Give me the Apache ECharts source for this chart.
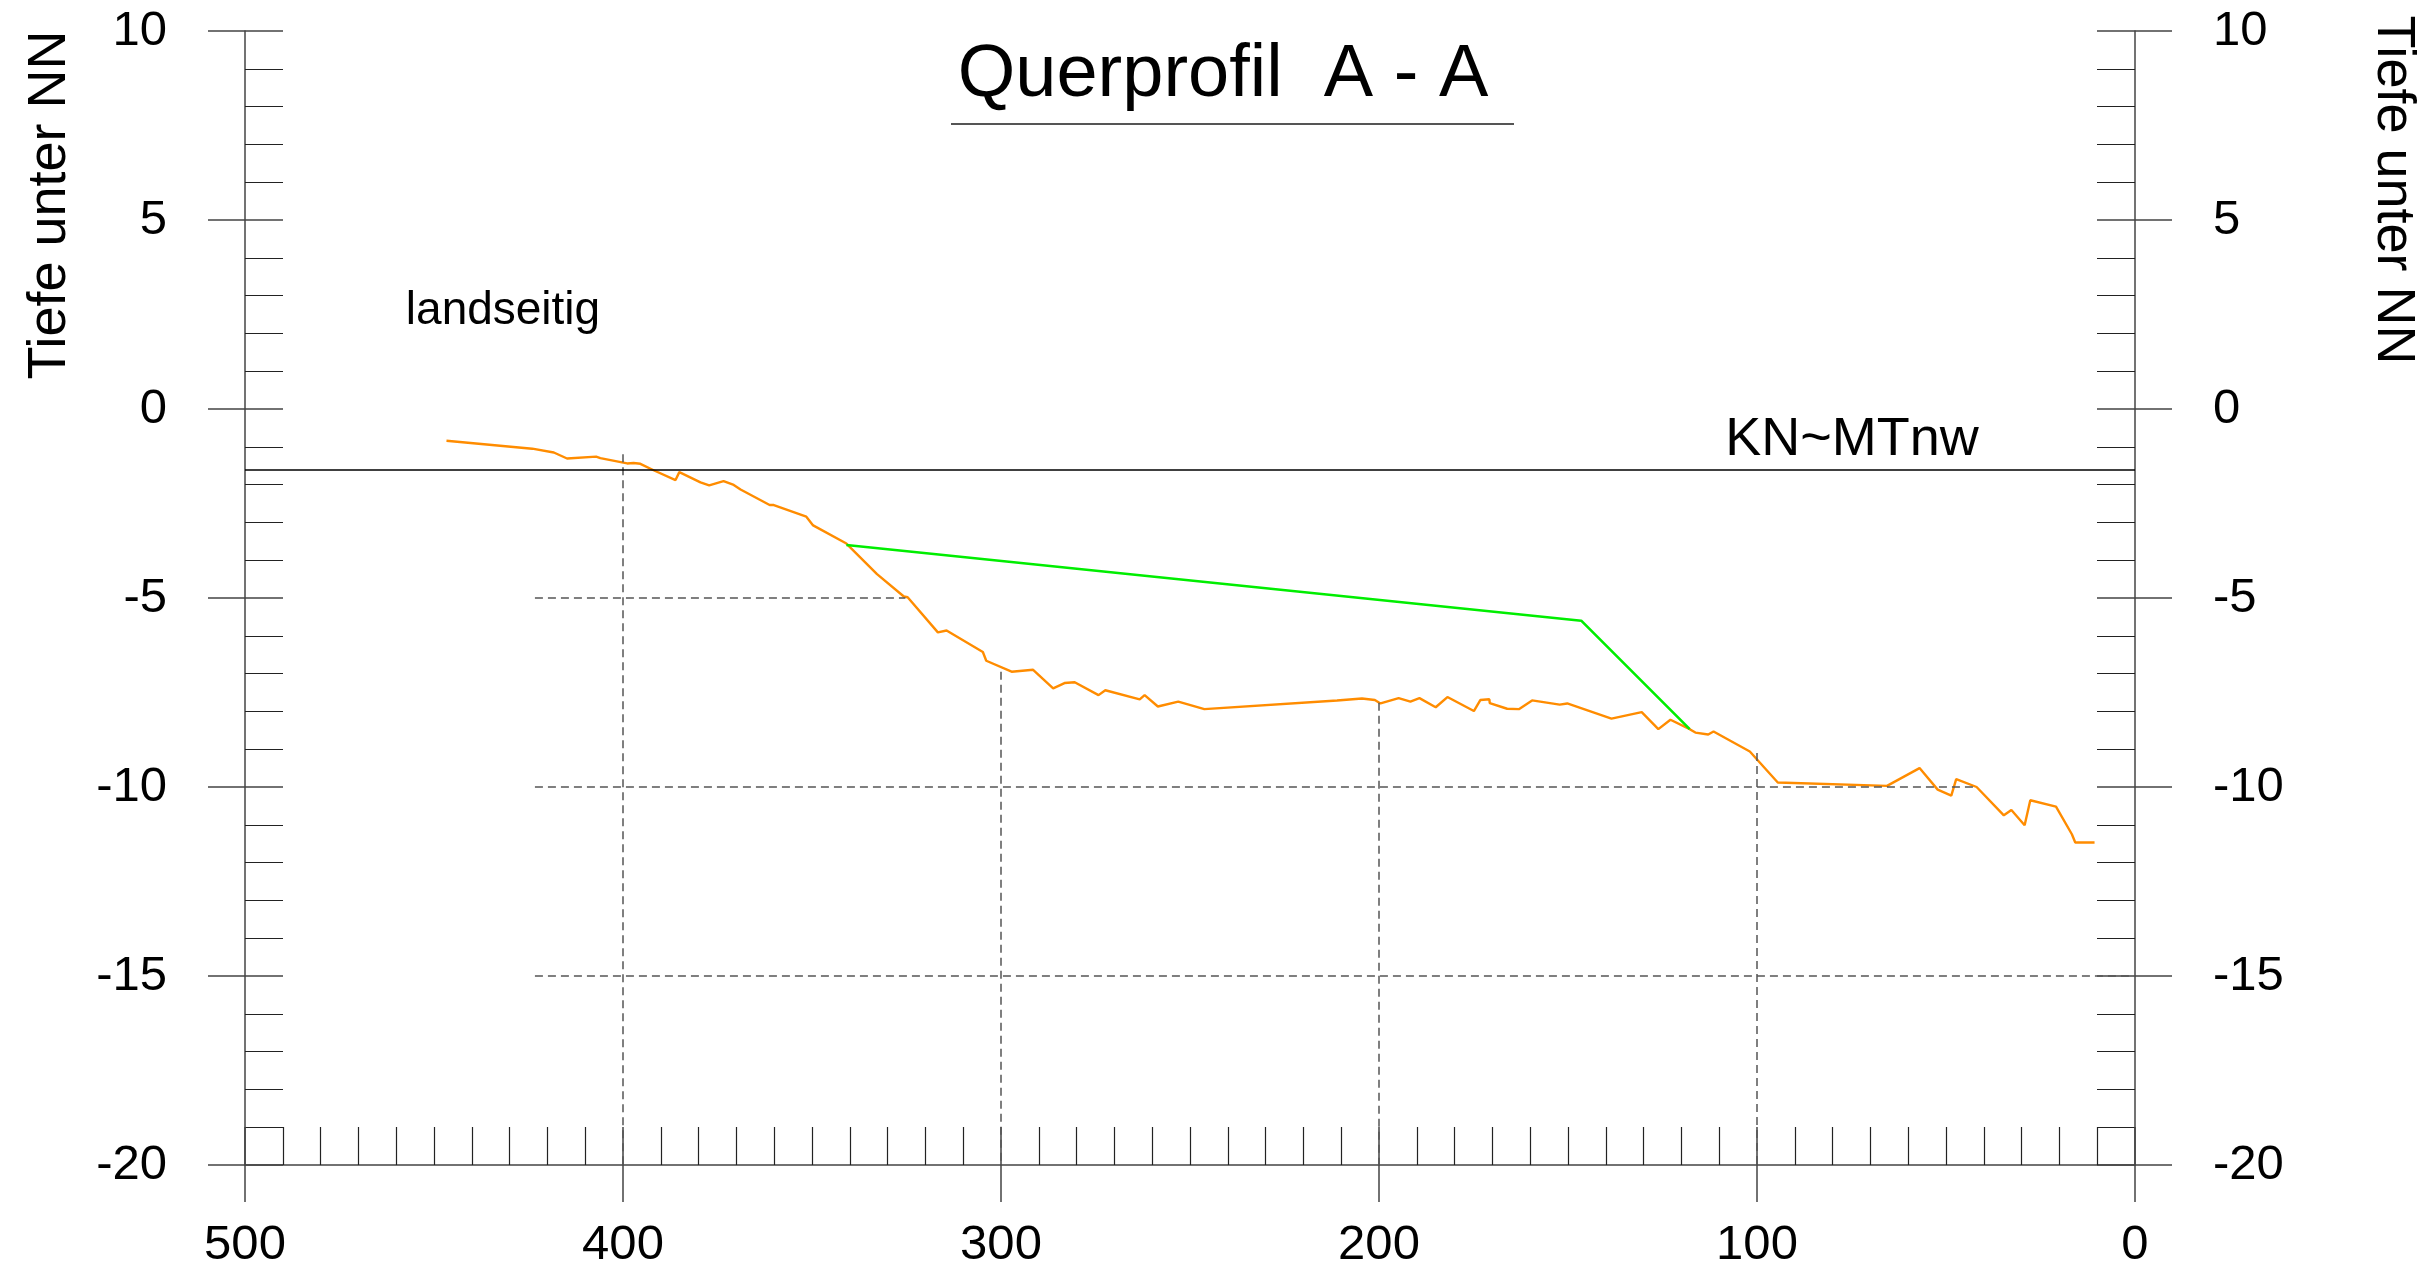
<!DOCTYPE html>
<html lang="de">
<head>
<meta charset="UTF-8">
<title>Querprofil A - A</title>
<style>
  html, body { margin: 0; padding: 0; background: #fff; }
  #main { width: 2433px; height: 1275px; }
</style>
</head>
<body>
<div id="main"></div>
<script src="https://cdn.jsdelivr.net/npm/echarts@6/dist/echarts.min.js"></script>
<script>
// Querprofil: Entfernung (m) und Tiefe unter NN (m)
var profilDist = [446.7, 424.0, 418.3, 417.8, 414.8, 407.1, 406.0, 398.9, 397.2, 395.4,
  391.9, 386.1, 385.1, 379.5, 377.2, 373.4, 370.7, 368.9, 361.2, 360.1,
  351.5, 349.7, 340.9, 332.8, 325.7, 324.7, 316.7, 314.4, 304.8, 303.9,
  297.2, 291.5, 286.2, 283.2, 280.5, 274.2, 272.4, 263.3, 262.0, 258.5,
  253.1, 246.2, 211.1, 204.5, 201.1, 199.6, 194.8, 191.7, 189.3, 185.0,
  181.9, 174.9, 173.2, 170.8, 170.7, 166.1, 163.0, 159.5, 152.2, 150.2,
  138.5, 130.5, 126.1, 122.9, 117.8, 116.3, 112.9, 111.5, 101.9, 94.5,
  65.6, 57.0, 52.2, 48.6, 47.3, 41.9, 34.7, 32.7, 29.2, 27.7,
  20.9, 16.7, 15.8, 10.7];
var profilTiefe = [-0.84, -1.05, -1.15, -1.12, -1.31, -1.26, -1.30, -1.44, -1.43, -1.45,
  -1.62, -1.88, -1.67, -1.94, -2.02, -1.91, -2.01, -2.13, -2.54, -2.54,
  -2.85, -3.08, -3.56, -4.37, -4.96, -4.98, -5.91, -5.86, -6.43, -6.66,
  -6.95, -6.90, -7.39, -7.25, -7.23, -7.57, -7.44, -7.68, -7.57, -7.87,
  -7.74, -7.94, -7.71, -7.66, -7.70, -7.79, -7.65, -7.74, -7.65, -7.89,
  -7.62, -7.99, -7.70, -7.68, -7.78, -7.93, -7.94, -7.71, -7.82, -7.79,
  -8.19, -8.02, -8.47, -8.22, -8.47, -8.56, -8.61, -8.53, -9.06, -9.88,
  -9.97, -9.50, -10.07, -10.23, -9.79, -10.00, -10.75, -10.61, -11.01, -10.35,
  -10.52, -11.25, -11.47, -11.47];

// geplante Sohle (gruen)
var sohleDist = [340.9, 146.5, 117.8];
var sohleTiefe = [-3.6, -5.6, -8.47];

// Kartennull ~ MTnw
var knTiefe = -1.6;

// gestrichelte Hilfslinien
var senkDist = [400, 300, 200, 100];
var senkVon = [-1.2, -6.95, -7.77, -9.1];
var waagTiefe = [-5, -10, -15];
var waagVon = [423.3, 423.3, 423.3];
var waagBis = [325.3, 42, 0];

var FONT = 'Liberation Sans';
var AXIS = '#444';

var myChart = echarts.init(document.getElementById('main'), null, { renderer: 'canvas' });

function xAxisOpt(inner) {
  return {
    type: 'value', position: 'bottom', min: 0, max: 500, interval: 100, inverse: true,
    axisLine: { show: inner, onZero: false, lineStyle: { color: AXIS, width: 1.5 } },
    axisTick: { show: true, inside: inner, length: inner ? 38 : 37, lineStyle: { color: AXIS, width: 1.5 } },
    minorTick: { show: inner, splitNumber: 10, length: 38, lineStyle: { color: '#222', width: 1.2 } },
    axisLabel: { show: inner, margin: 56, fontSize: 49, fontFamily: FONT, color: '#000' },
    splitLine: { show: false }
  };
}

function yAxisOpt(pos, inner) {
  return {
    type: 'value', position: pos, min: -20, max: 10, interval: 5,
    axisLine: { show: inner, onZero: false, lineStyle: { color: AXIS, width: 1.5 } },
    axisTick: { show: true, inside: inner, length: inner ? 38 : 37, lineStyle: { color: AXIS, width: 1.5 } },
    minorTick: { show: inner, splitNumber: 5, length: 38, lineStyle: { color: '#222', width: 1.2 } },
    axisLabel: { show: inner, margin: 78, fontSize: 49, fontFamily: FONT, color: '#000' },
    splitLine: { show: false }
  };
}

var dash = { type: [8, 5], color: '#555', width: 1.5 };
var hilfsLinien = [];
senkDist.forEach(function (d, i) {
  hilfsLinien.push([{ coord: [d, senkVon[i]] }, { coord: [d, -20] }]);
});
waagTiefe.forEach(function (t, i) {
  hilfsLinien.push([{ coord: [waagVon[i], t] }, { coord: [waagBis[i], t] }]);
});
hilfsLinien.push({ yAxis: knTiefe, lineStyle: { type: 'solid', color: '#000', width: 1.5 } });

myChart.setOption({
  animation: false,
  backgroundColor: '#fff',
  grid: { left: 245, right: 298, top: 31, bottom: 110 },
  xAxis: [xAxisOpt(true), xAxisOpt(false)],
  yAxis: [yAxisOpt('left', true), yAxisOpt('left', false), yAxisOpt('right', true), yAxisOpt('right', false)],
  graphic: [
    { type: 'text', x: 1223, y: 76, style: { text: 'Querprofil  A - A', fontSize: 74, fontFamily: FONT, fill: '#000', align: 'center', verticalAlign: 'middle' } },
    { type: 'line', shape: { x1: 951, y1: 124, x2: 1514, y2: 124 }, style: { stroke: '#555', lineWidth: 2 } },
    { type: 'text', x: 50, y: 205, rotation: Math.PI / 2, style: { text: 'Tiefe unter NN', fontSize: 54, fontFamily: FONT, fill: '#000', align: 'center', verticalAlign: 'middle' } },
    { type: 'text', x: 2393, y: 190, rotation: -Math.PI / 2, style: { text: 'Tiefe unter NN', fontSize: 54, fontFamily: FONT, fill: '#000', align: 'center', verticalAlign: 'middle' } },
    { type: 'text', x: 503, y: 311, style: { text: 'landseitig', fontSize: 46, fontFamily: FONT, fill: '#000', align: 'center', verticalAlign: 'middle' } },
    { type: 'text', x: 1852, y: 440, style: { text: 'KN~MTnw', fontSize: 54, fontFamily: FONT, fill: '#000', align: 'center', verticalAlign: 'middle' } }
  ],
  series: [
    {
      name: 'Profil', type: 'line', xAxisIndex: 0, yAxisIndex: 0,
      data: profilDist.map(function (d, i) { return [d, profilTiefe[i]]; }),
      showSymbol: false, symbol: 'none',
      lineStyle: { color: '#FF8C00', width: 2.4 },
      z: 3,
      markLine: {
        silent: true, symbol: ['none', 'none'],
        label: { show: false },
        lineStyle: dash,
        data: hilfsLinien
      }
    },
    {
      name: 'Sohle', type: 'line', xAxisIndex: 0, yAxisIndex: 0,
      data: sohleDist.map(function (d, i) { return [d, sohleTiefe[i]]; }),
      showSymbol: false, symbol: 'none',
      lineStyle: { color: '#00EE00', width: 2.6 },
      z: 4
    }
  ]
});
</script>
</body>
</html>
